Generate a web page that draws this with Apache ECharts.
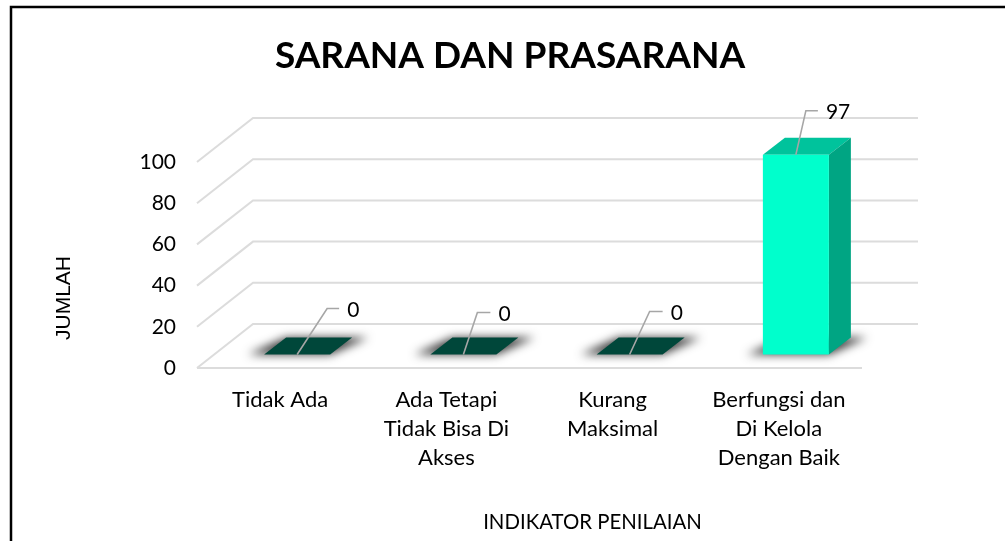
<!DOCTYPE html>
<html>
<head>
<meta charset="utf-8">
<style>
html, body { margin: 0; padding: 0; background: #fff; }
#chart { width: 1005px; height: 541px; }
</style>
<script src="https://cdn.jsdelivr.net/npm/echarts@6/dist/echarts.min.js"></script>
</head>
<body>
<div id="chart"></div>
<script>
// Data
var categories = ['Tidak Ada', 'Ada Tetapi\nTidak Bisa Di\nAkses', 'Kurang\nMaksimal', 'Berfungsi dan\nDi Kelola\nDengan Baik'];
var values = [0, 0, 0, 97];
var yTicks = [0, 20, 40, 60, 80, 100];

// 3D look, in pixels
var FONT = 'Lato, Carlito, sans-serif';
var WALL_DX = 56, WALL_DY = -44;
var BAR_DX = 17, BAR_DY = -13.5;
var SIDE_DX = 22, SIDE_DY = -17;
var BAR_W = 66;
// leader line of each value label: [elbow dx, elbow dy, end dx]
var leaders = [[30, -46, 12], [14, -42, 13], [20, -43, 13], [10, -44, 12]];

var chart = echarts.init(document.getElementById('chart'));

// Floor, side wall and back wall lines
function renderWall(params, api) {
    var cs = params.coordSys;
    var y = api.coord([0, api.value(0)])[1];
    var x0 = cs.x, x1 = cs.x + cs.width;
    var lineStyle = { stroke: '#dcdcdc', lineWidth: 2, fill: null };
    var children = [{
        type: 'polyline',
        shape: { points: [[x0, y], [x0 + WALL_DX, y + WALL_DY], [x1 + WALL_DX, y + WALL_DY]] },
        style: lineStyle
    }];
    if (api.value(0) === 0) {
        children.push({ type: 'line', shape: { x1: x0, y1: y, x2: x1, y2: y }, style: lineStyle });
    }
    return { type: 'group', children: children };
}

function renderBar(params, api) {
    var base = api.coord([api.value(0), 0]);
    var top = api.coord([api.value(0), api.value(1)]);
    var i = params.dataIndex;
    var xl = base[0] + BAR_DX - BAR_W / 2, xr = xl + BAR_W;
    var yb = base[1] + BAR_DY, yt = top[1] + BAR_DY;
    var flat = api.value(1) === 0;
    var lead = leaders[i];
    var sx = xl + BAR_W / 2, sy = flat ? yb : yt;
    var ex = sx + lead[0], ey = sy + lead[1];
    var away = 3000; // the shadow caster sits off the canvas, only its blur shows

    var children = [];
    // floor shadow
    children.push({
        type: 'polygon',
        shape: { points: [[xl - 16 - away, yb], [xr - away, yb], [xr + SIDE_DX + 16 - away, yb + SIDE_DY], [xl + SIDE_DX - away, yb + SIDE_DY]] },
        style: { fill: '#3a3a3a', shadowBlur: 10, shadowColor: '#3a3a3a', shadowOffsetX: away }
    });
    if (flat) {
        children.push({
            type: 'polygon',
            shape: { points: [[xl, yb], [xr, yb], [xr + SIDE_DX, yb + SIDE_DY], [xl + SIDE_DX, yb + SIDE_DY]] },
            style: { fill: '#00473a' }
        });
    } else {
        children.push({
            type: 'polygon',
            shape: { points: [[xl, yt], [xr, yt], [xr + SIDE_DX, yt + SIDE_DY], [xl + SIDE_DX, yt + SIDE_DY]] },
            style: { fill: '#00c39c' }
        });
        children.push({
            type: 'polygon',
            shape: { points: [[xr, yt], [xr + SIDE_DX, yt + SIDE_DY], [xr + SIDE_DX, yb + SIDE_DY], [xr, yb]] },
            style: { fill: '#00a583' }
        });
        children.push({
            type: 'rect',
            shape: { x: xl, y: yt, width: BAR_W, height: yb - yt },
            style: { fill: '#00ffcc' }
        });
    }
    // value label with leader line
    children.push({
        type: 'polyline',
        shape: { points: [[sx, sy], [ex, ey], [ex + lead[2], ey]] },
        style: { stroke: '#a6a6a6', lineWidth: 1.6, fill: null }
    });
    children.push({
        type: 'text',
        style: {
            x: ex + lead[2] + 8, y: ey + 1.5,
            text: String(api.value(1)),
            font: '21px ' + FONT,
            fill: '#000',
            verticalAlign: 'middle'
        }
    });
    return { type: 'group', children: children };
}

chart.setOption({
    animation: false,
    backgroundColor: '#fff',

    // Outer frame
    graphic: [{
        type: 'polyline',
        shape: { points: [[11, 541], [11, 7], [1005, 7]] },
        style: { stroke: '#000', lineWidth: 2.5, fill: null }
    }],

    title: {
        text: 'SARANA DAN PRASARANA',
        left: 505,
        top: 33,
        textAlign: 'center',
        textStyle: { fontFamily: FONT, fontSize: 37, fontWeight: 'bold', color: '#000' }
    },

    grid: { left: 197, top: 162, width: 665, height: 206 },

    xAxis: {
        type: 'category',
        data: categories,
        name: 'INDIKATOR PENILAIAN',
        nameLocation: 'middle',
        nameGap: 144,
        nameTextStyle: { fontFamily: FONT, fontSize: 20.4, color: '#000', padding: [0, 0, 0, 126] },
        axisLine: { show: false },
        axisTick: { show: false },
        axisLabel: { fontFamily: FONT, fontSize: 22, color: '#000', lineHeight: 29, margin: 17, interval: 0 }
    },

    yAxis: {
        type: 'value',
        min: 0,
        max: 100,
        interval: 20,
        name: 'JUMLAH',
        nameLocation: 'middle',
        nameGap: 122,
        nameTextStyle: { fontFamily: 'Liberation Sans', fontSize: 21, color: '#000', padding: [0, 66, 0, 0] },
        axisLine: { show: false },
        axisTick: { show: false },
        splitLine: { show: false },
        axisLabel: { fontFamily: FONT, fontSize: 21, color: '#000', margin: 21, padding: [4, 0, 0, 0] }
    },

    series: [{
        type: 'custom',
        renderItem: renderWall,
        data: yTicks.map(function (t) { return [t]; }),
        encode: { y: 0 },
        silent: true,
        z: 1
    }, {
        type: 'custom',
        renderItem: renderBar,
        data: values.map(function (v, i) { return [i, v]; }),
        encode: { x: 0, y: 1 },
        clip: false,
        z: 2
    }]
});
</script>
</body>
</html>
